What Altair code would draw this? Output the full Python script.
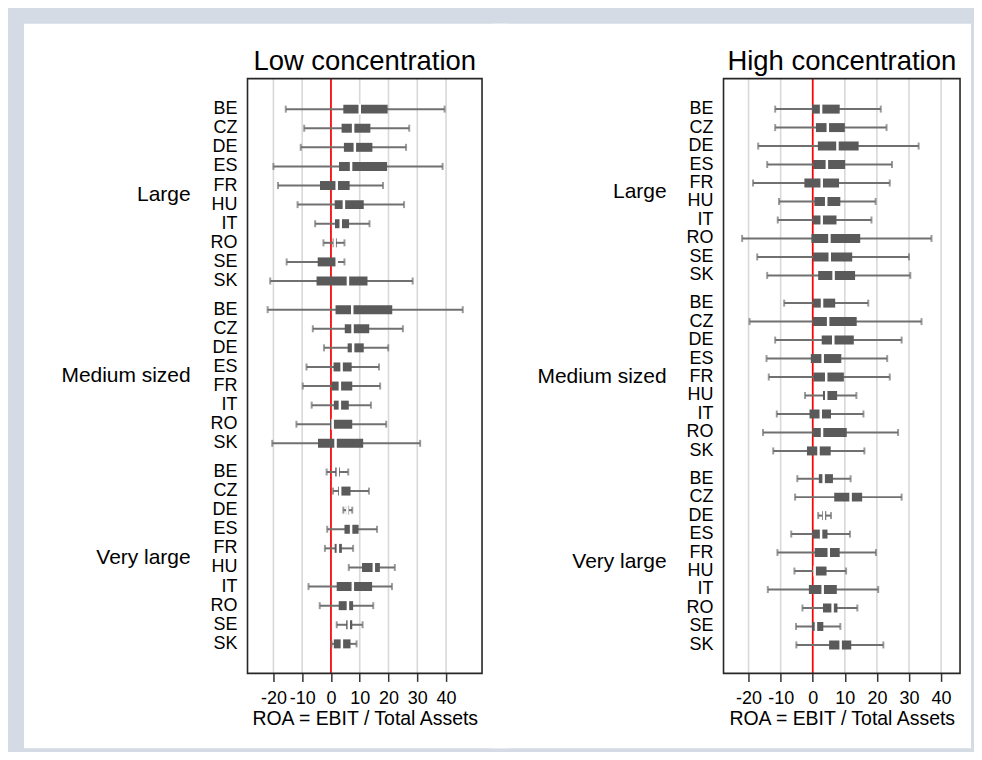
import altair as alt
import pandas as pd

groups = ["Large", "Medium sized", "Very large"]
tick_values = [-20, -10, 0, 10, 20, 30, 40]
axis_title = "ROA = EBIT / Total Assets"

# (country, lower whisker, q1, median, q3, upper whisker)
low_large = [
    ("BE", -15.7, 4.3, 10.0, 19.7, 39.5),
    ("CZ", -9.3, 3.7, 7.7, 13.7, 27.2),
    ("DE", -10.5, 4.5, 8.3, 14.4, 26.1),
    ("ES", -20.0, 2.8, 7.0, 19.5, 38.8),
    ("FR", -18.4, -3.8, 2.0, 6.5, 18.1),
    ("HU", -11.6, 1.3, 4.5, 11.4, 25.4),
    ("IT", -5.5, 1.4, 3.4, 6.3, 13.4),
    ("RO", -2.6, 0.6, 1.3, 2.0, 4.7),
    ("SE", -15.4, -4.6, 2.0, 2.2, 4.7),
    ("SK", -21.1, -5.0, 5.9, 12.7, 28.4),
]
low_medium = [
    ("BE", -22.0, 1.6, 7.4, 21.3, 45.8),
    ("CZ", -6.3, 4.8, 7.5, 13.3, 25.0),
    ("DE", -2.4, 5.8, 7.7, 11.4, 19.9),
    ("ES", -8.5, 0.9, 3.7, 7.2, 16.7),
    ("FR", -9.8, 0.2, 3.1, 7.4, 17.1),
    ("IT", -6.7, 1.0, 3.1, 6.2, 13.9),
    ("RO", -12.0, -0.3, 0.6, 7.4, 19.2),
    ("SK", -20.4, -4.5, 1.6, 11.2, 31.0),
]
low_verylarge = [
    ("BE", -1.5, 1.5, 2.4, 3.1, 6.0),
    ("CZ", 0.7, 2.5, 3.2, 6.8, 13.2),
    ("DE", 4.3, 5.2, 5.7, 6.3, 7.4),
    ("ES", -1.3, 4.7, 7.0, 9.6, 16.0),
    ("FR", -2.1, 1.3, 2.4, 3.8, 7.7),
    ("HU", 6.2, 10.8, 14.9, 17.0, 22.2),
    ("IT", -7.8, 2.0, 7.6, 14.3, 21.2),
    ("RO", -3.9, 2.7, 5.9, 7.7, 14.7),
    ("SE", 2.0, 5.3, 6.2, 7.4, 11.0),
    ("SK", 0.2, 1.0, 3.8, 6.8, 8.9),
]

high_large = [
    ("BE", -11.7, -0.2, 2.6, 8.4, 21.2),
    ("CZ", -11.7, 1.0, 4.7, 10.0, 23.0),
    ("DE", -17.0, 1.6, 7.7, 14.3, 33.0),
    ("ES", -14.2, 0.1, 4.4, 10.1, 24.7),
    ("FR", -18.6, -2.6, 2.8, 8.2, 24.0),
    ("HU", -10.5, 0.5, 4.2, 8.6, 19.6),
    ("IT", -10.9, 0.0, 2.8, 7.4, 18.3),
    ("RO", -22.0, -0.4, 5.2, 14.8, 37.0),
    ("SE", -17.3, 0.1, 5.3, 12.3, 30.0),
    ("SK", -14.2, 1.7, 6.5, 13.2, 30.4),
]
high_medium = [
    ("BE", -8.9, 0.0, 2.9, 7.0, 17.3),
    ("CZ", -19.7, 0.0, 4.8, 13.7, 33.9),
    ("DE", -11.7, 2.8, 6.4, 12.8, 27.7),
    ("ES", -14.4, -0.6, 3.1, 8.9, 23.2),
    ("FR", -13.7, 0.2, 4.2, 9.7, 24.0),
    ("HU", -2.4, 3.2, 4.2, 7.6, 13.6),
    ("IT", -11.2, -1.0, 2.5, 5.7, 15.8),
    ("RO", -15.5, -0.1, 2.9, 10.6, 26.6),
    ("SK", -12.3, -1.8, 1.8, 5.6, 16.1),
]
high_verylarge = [
    ("BE", -4.8, 1.9, 3.4, 6.3, 11.8),
    ("CZ", -5.5, 6.7, 11.8, 15.4, 27.7),
    ("DE", 1.7, 2.9, 3.5, 4.2, 5.7),
    ("ES", -6.7, -0.1, 2.6, 4.6, 11.6),
    ("FR", -11.0, 0.6, 5.0, 8.4, 19.7),
    ("HU", -5.7, 0.4, 0.6, 4.3, 10.4),
    ("IT", -14.0, -1.2, 3.1, 7.5, 20.4),
    ("RO", -3.2, 3.2, 6.2, 7.7, 13.9),
    ("SE", -5.2, -0.2, 1.0, 3.3, 8.6),
    ("SK", -5.1, 5.1, 8.7, 12.0, 22.0),
]

FONT = "Liberation Sans"
PLOT_H = 596


def build(panel_groups):
    rows, grows = [], []
    pos = 0.0
    for gi, data in enumerate(panel_groups):
        if gi > 0:
            pos += 0.5
        start = pos
        for c, lo, q1, med, q3, hi in data:
            rows.append(dict(group=groups[gi], country=c, lo=lo, q1=q1,
                             med=med, q3=q3, hi=hi, pos=pos))
            pos += 1
        grows.append(dict(group=groups[gi], pos=(start + pos - 1) / 2))
    return pd.DataFrame(rows), pd.DataFrame(grows)


def panel(title, panel_groups, xdom, ydom, width, rect_l, rect_r):
    df, gdf = build(panel_groups)
    xs = alt.Scale(domain=xdom, nice=False, zero=False)
    ys = alt.Scale(domain=ydom, reverse=True, nice=False, zero=False)
    xaxis = alt.Axis(values=tick_values, grid=False, domain=False, ticks=True,
                     tickSize=8, tickColor="#333333", tickWidth=1.5,
                     labelFontSize=18, labelColor="black", labelPadding=8,
                     labelFont=FONT, labelFlush=False, labelOverlap=False,
                     labelExpr="'' + datum.value",
                     title=axis_title, titleFontSize=19.5, titleFont=FONT,
                     titleFontWeight="normal", titleColor="black",
                     titlePadding=2, zindex=1)
    one = pd.DataFrame({"a": [0]})
    grid_df = pd.DataFrame({"v": tick_values})
    zero_df = pd.DataFrame({"v": [0]})
    title_df = pd.DataFrame({"t": [title]})

    bg = alt.Chart(one).mark_rect(color="white").encode(
        x=alt.value(rect_l), x2=alt.value(rect_r),
        y=alt.value(-55), y2=alt.value(671))
    grid = alt.Chart(grid_df).mark_rule(color="#d9d9d9", strokeWidth=1.6).encode(
        x=alt.X("v:Q", scale=xs, axis=xaxis))
    zero = alt.Chart(zero_df).mark_rule(color="#ff0000", strokeWidth=1.7).encode(
        x=alt.X("v:Q", scale=xs, axis=xaxis))
    base = alt.Chart(df)
    y = alt.Y("pos:Q", scale=ys, axis=None)
    whisk = base.mark_rule(color="#707070", strokeWidth=2).encode(
        x=alt.X("lo:Q", scale=xs, axis=xaxis), x2="hi:Q", y=y)
    cap_lo = base.mark_tick(orient="vertical", size=7, thickness=2,
                            color="#707070").encode(
        x=alt.X("lo:Q", scale=xs, axis=xaxis), y=y)
    cap_hi = base.mark_tick(orient="vertical", size=7, thickness=2,
                            color="#707070").encode(
        x=alt.X("hi:Q", scale=xs, axis=xaxis), y=y)
    box = base.mark_bar(orient="horizontal", size=9, color="#5a5a5a").encode(
        x=alt.X("q1:Q", scale=xs, axis=xaxis), x2="q3:Q", y=y)
    med = base.mark_tick(orient="vertical", size=11, thickness=2.5,
                         color="white", opacity=1).encode(
        x=alt.X("med:Q", scale=xs, axis=xaxis), y=y)
    ctext = base.mark_text(align="right", baseline="middle", fontSize=18,
                           font=FONT, color="black").encode(
        x=alt.value(-10), y=y, text="country:N")
    gtext = alt.Chart(gdf).mark_text(align="right", baseline="middle",
                                     fontSize=21, font=FONT,
                                     color="black").encode(
        x=alt.value(-57), y=y, text="group:N")
    ttext = alt.Chart(title_df).mark_text(align="center", baseline="alphabetic",
                                          fontSize=27.5, font=FONT,
                                          color="black").encode(
        x=alt.value(width / 2), y=alt.value(-9), text="t:N")
    frame = alt.Chart(one).mark_rect(fillOpacity=0, stroke="#262626",
                                     strokeWidth=1.6).encode(
        x=alt.value(0), x2=alt.value(width), y=alt.value(0),
        y2=alt.value(PLOT_H))
    return alt.layer(bg, grid, zero, whisk, cap_lo, cap_hi, box, med,
                     ctext, gtext, ttext, frame).properties(
        width=width, height=PLOT_H)


left = panel("Low concentration", [low_large, low_medium, low_verylarge],
             [-29.0, 52.5], [-1.336, 29.285], 235, -224, 262)
right = panel("High concentration", [high_large, high_medium, high_verylarge],
              [-27.8, 45.9], [-1.38, 30.27], 237, -232, 248)

chart = alt.hconcat(left, right, spacing=242, bounds="flush").properties(
    background="#d4dbe5",
    padding={"left": 15, "top": 14, "right": 2, "bottom": 2},
).configure_view(stroke=None).configure(font=FONT)

chart.save("out.html", embed_options={"renderer": "svg", "actions": False})
